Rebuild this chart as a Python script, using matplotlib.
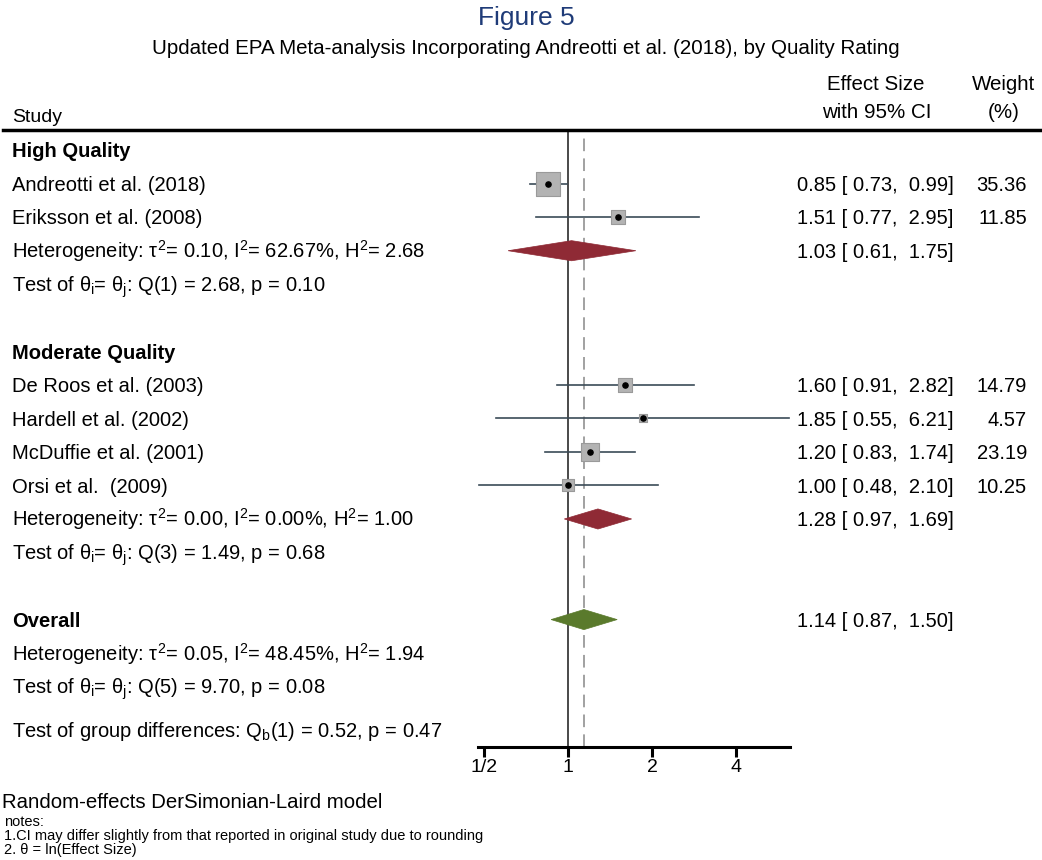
import matplotlib
matplotlib.use("Agg")
import matplotlib.pyplot as plt
import matplotlib.transforms as mtrans
from matplotlib.patches import Polygon
import numpy as np

plt.rcParams['font.family'] = ['Liberation Sans', 'DejaVu Sans']
plt.rcParams['mathtext.fontset'] = 'custom'
plt.rcParams['mathtext.rm'] = 'Liberation Sans'
plt.rcParams['mathtext.it'] = 'Liberation Sans'
plt.rcParams['mathtext.bf'] = 'Liberation Sans:bold'

# ---- data ----
studies = ["Andreotti et al. (2018)", "Eriksson et al. (2008)",
           "De Roos et al. (2003)", "Hardell et al. (2002)",
           "McDuffie et al. (2001)", "Orsi et al.  (2009)"]
study_rows = [1, 2, 7, 8, 9, 10]
es = [0.85, 1.51, 1.60, 1.85, 1.20, 1.00]
ci_lo = [0.73, 0.77, 0.91, 0.55, 0.83, 0.48]
ci_hi = [0.99, 2.95, 2.82, 6.21, 1.74, 2.10]
weights = [35.36, 11.85, 14.79, 4.57, 23.19, 10.25]

group_labels = ["High Quality", "Moderate Quality"]
group_rows = [0, 6]
pooled_labels = ["High", "Moderate", "Overall"]
pooled_rows = [3, 11, 14]
pooled_es = [1.03, 1.28, 1.14]
pooled_lo = [0.61, 0.97, 0.87]
pooled_hi = [1.75, 1.69, 1.50]
pooled_colors = ["#8f2a35", "#8f2a35", "#5a7a2c"]

stat_rows = [3, 4, 11, 12, 15, 16, 17.3]
stat_texts = [
    r"Heterogeneity: $\tau^2$= 0.10, I$^2$= 62.67%, H$^2$= 2.68",
    r"Test of $\theta_\mathrm{i}$= $\theta_\mathrm{j}$: Q(1) = 2.68, p = 0.10",
    r"Heterogeneity: $\tau^2$= 0.00, I$^2$= 0.00%, H$^2$= 1.00",
    r"Test of $\theta_\mathrm{i}$= $\theta_\mathrm{j}$: Q(3) = 1.49, p = 0.68",
    r"Heterogeneity: $\tau^2$= 0.05, I$^2$= 48.45%, H$^2$= 1.94",
    r"Test of $\theta_\mathrm{i}$= $\theta_\mathrm{j}$: Q(5) = 9.70, p = 0.08",
    r"Test of group differences: Q$_\mathrm{b}$(1) = 0.52, p = 0.47",
]
xticks = [0.5, 1, 2, 4]
xtick_labels = ["1/2", "1", "2", "4"]

W, H = 1042, 860
fig = plt.figure(figsize=(W / 100, H / 100), dpi=100)

def fx(px):
    return px / W

def fy(py):
    return 1 - py / H

ax = fig.add_axes([fx(478), fy(747), fx(790 - 478), (747 - 130) / H])
ax.set_xscale('log', base=2)
ax.set_xlim(0.476, 6.24)
ax.set_ylim(17.8, -0.6)
for s in ['top', 'left', 'right']:
    ax.spines[s].set_visible(False)
ax.spines['bottom'].set_linewidth(2.2)
ax.set_yticks([])
ax.set_xticks(xticks)
ax.set_xticklabels(xtick_labels, fontsize=14)
ax.minorticks_off()
ax.tick_params(axis='x', length=7, width=2.2, pad=2)

# reference lines
ax.axvline(1.0, color='#4a4a4a', lw=1.4, zorder=1)
ax.axvline(pooled_es[2], color='#9a9a9a', lw=1.3, ls=(0, (7, 4)), zorder=1)

# CIs and boxes
for r, e, l, h, w in zip(study_rows, es, ci_lo, ci_hi, weights):
    ax.plot([l, h], [r, r], color='#3b4b57', lw=1.2, zorder=2)
    side_pt = 3.9 * np.sqrt(w) * 0.72
    ax.scatter([e], [r], marker='s', s=side_pt ** 2, color='#b3b3b3',
               edgecolors='#9a9a9a', linewidths=0.8, zorder=3)
    ax.scatter([e], [r], marker='o', s=14, color='black', zorder=4)

# diamonds
for r, e, l, h, c in zip(pooled_rows, pooled_es, pooled_lo, pooled_hi, pooled_colors):
    poly = Polygon([[l, r], [e, r - 0.3], [h, r], [e, r + 0.3]], closed=True,
                   facecolor=c, edgecolor=c, lw=0.5, zorder=3)
    ax.add_patch(poly)

# text columns (baseline aligned, shifted so cap-height is centred on row)
fs = 14.5
tr0 = mtrans.blended_transform_factory(fig.transFigure, ax.transData)
tr = mtrans.offset_copy(tr0, fig=fig, x=0, y=-0.36 * fs, units='points')

def row_text(x, r, s, **kw):
    fig.text(x, r, s, transform=tr, fontsize=fs, va='baseline', **kw)

for r, name in zip(study_rows, studies):
    row_text(fx(12), r, name)
for r, g in zip(group_rows, group_labels):
    row_text(fx(12), r, g, fontweight='bold')
row_text(fx(12), pooled_rows[2], "Overall", fontweight='bold')
for r, t in zip(stat_rows, stat_texts):
    row_text(fx(12), r, t)

for r, e, l, h, w in zip(study_rows, es, ci_lo, ci_hi, weights):
    row_text(fx(797), r, f"{e:.2f} [ {l:.2f},  {h:.2f}]")
    row_text(fx(1027), r, f"{w:.2f}", ha='right')
for r, e, l, h in zip(pooled_rows, pooled_es, pooled_lo, pooled_hi):
    row_text(fx(797), r, f"{e:.2f} [ {l:.2f},  {h:.2f}]")

# header
fig.text(fx(526), fy(18), "Figure 5", fontsize=19, color='#1f3b78',
         ha='center', va='center')
fig.text(fx(526), fy(48), "Updated EPA Meta-analysis Incorporating Andreotti et al. (2018), by Quality Rating",
         fontsize=14.8, ha='center', va='center')
fig.text(fx(12), fy(117), "Study", fontsize=14, va='center')
fig.text(fx(876), fy(85), "Effect Size", fontsize=14.8, va='center', ha='center')
fig.text(fx(877), fy(113), "with 95% CI", fontsize=14.8, va='center', ha='center')
fig.text(fx(1004), fy(85), "Weight", fontsize=14.8, va='center', ha='center')
fig.text(fx(1004), fy(113), "(%)", fontsize=14.8, va='center', ha='center')
fig.add_artist(plt.Line2D([fx(3), fx(1042)], [fy(130), fy(130)],
                          transform=fig.transFigure, color='black', lw=2.5))

# footer
fig.text(fx(2), fy(803), "Random-effects DerSimonian-Laird model", fontsize=14.7, va='center')
fig.text(fx(4), fy(822), "notes:", fontsize=10.5, va='center')
fig.text(fx(4), fy(836), "1.CI may differ slightly from that reported in original study due to rounding",
         fontsize=10.5, va='center')
fig.text(fx(4), fy(850), "2. \u03b8 = ln(Effect Size)", fontsize=10.5, va='center')

fig.savefig("out.png", dpi=100)
